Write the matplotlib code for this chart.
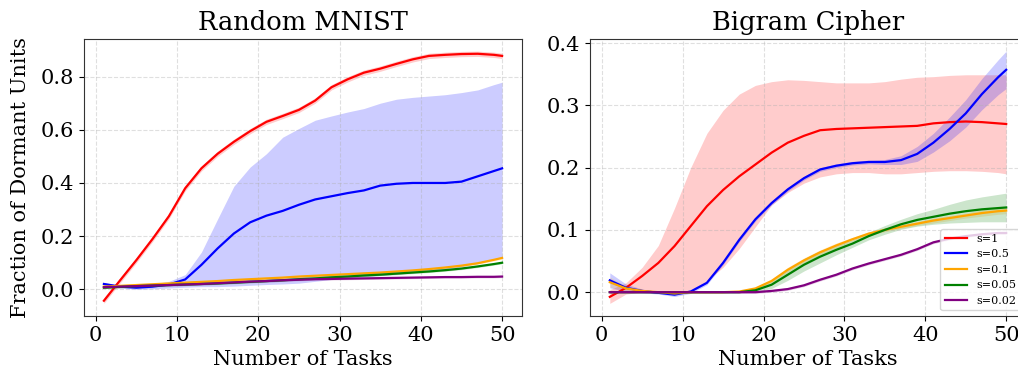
import numpy as np
import matplotlib
matplotlib.use('Agg')
from matplotlib import pyplot as plt

plt.rcParams['font.family'] = ['DejaVu Serif']

tasks = [1, 3, 5, 7, 9, 11, 13, 15, 17, 19, 21, 23, 25, 27, 29, 31, 33, 35, 37, 39, 41, 43, 45, 47, 49, 50]
labels = ['s=1', 's=0.5', 's=0.1', 's=0.05', 's=0.02']
colors = ['red', 'blue', 'orange', 'green', 'purple']

# Random MNIST: means, lower / upper edges of shaded band
mnist_s1 = [-0.043, 0.034, 0.11, 0.19, 0.275, 0.38, 0.455, 0.51, 0.555, 0.595, 0.63, 0.652, 0.675,
            0.71, 0.76, 0.79, 0.815, 0.83, 0.848, 0.865, 0.878, 0.882, 0.885, 0.886, 0.882, 0.878]
mnist_s1_std = [0.01] * 26
mnist_s05 = [0.02, 0.01, 0.006, 0.01, 0.018, 0.037, 0.092, 0.154, 0.21, 0.252, 0.277, 0.295, 0.318,
             0.338, 0.35, 0.362, 0.372, 0.39, 0.397, 0.4, 0.4, 0.4, 0.405, 0.425, 0.445, 0.455]
mnist_s05_hi = [0.025, 0.015, 0.012, 0.02, 0.03, 0.055, 0.14, 0.265, 0.388, 0.46, 0.51, 0.572, 0.605,
                0.636, 0.652, 0.667, 0.68, 0.7, 0.715, 0.722, 0.727, 0.732, 0.74, 0.75, 0.77, 0.779]
mnist_s05_lo = [0.015, 0.005, 0.0, 0.002, 0.005, 0.008, 0.01, 0.01, 0.012, 0.015, 0.018, 0.02, 0.023,
                0.03, 0.037, 0.042, 0.047, 0.052, 0.057, 0.062, 0.068, 0.075, 0.085, 0.097, 0.112, 0.12]
mnist_s01 = [0.01, 0.013, 0.016, 0.019, 0.022, 0.025, 0.028, 0.031, 0.035, 0.038, 0.041, 0.044, 0.048,
             0.051, 0.054, 0.057, 0.06, 0.063, 0.067, 0.071, 0.076, 0.082, 0.089, 0.098, 0.111, 0.118]
mnist_s005 = [0.006, 0.009, 0.012, 0.014, 0.016, 0.018, 0.02, 0.022, 0.025, 0.028, 0.031, 0.034, 0.038,
              0.041, 0.045, 0.048, 0.052, 0.055, 0.059, 0.063, 0.067, 0.072, 0.078, 0.086, 0.095, 0.1]
mnist_s002 = [0.008, 0.01, 0.012, 0.014, 0.016, 0.018, 0.02, 0.023, 0.026, 0.029, 0.031, 0.034, 0.036,
              0.038, 0.039, 0.04, 0.041, 0.042, 0.043, 0.044, 0.045, 0.046, 0.046, 0.047, 0.047, 0.048]
mnist_small_std = [0.004] * 26

# Bigram Cipher
bigram_s1 = [-0.0075, 0.007, 0.026, 0.047, 0.074, 0.106, 0.138, 0.164, 0.186, 0.205, 0.224, 0.24, 0.251,
             0.26, 0.262, 0.263, 0.264, 0.265, 0.266, 0.267, 0.271, 0.273, 0.274, 0.273, 0.271, 0.27]
bigram_s1_hi = [0.004, 0.015, 0.04, 0.075, 0.135, 0.2, 0.255, 0.292, 0.318, 0.332, 0.338, 0.341, 0.34,
                0.338, 0.336, 0.336, 0.336, 0.338, 0.342, 0.345, 0.346, 0.348, 0.349, 0.349, 0.349, 0.349]
bigram_s1_lo = [-0.018, -0.003, 0.0, 0.0, 0.0, 0.003, 0.018, 0.04, 0.07, 0.105, 0.14, 0.16, 0.175,
                0.185, 0.19, 0.192, 0.192, 0.19, 0.19, 0.192, 0.194, 0.195, 0.195, 0.194, 0.192, 0.19]
bigram_s05 = [0.019, 0.007, 0.002, -0.001, -0.004, 0.001, 0.015, 0.047, 0.084, 0.117, 0.143, 0.165, 0.183,
              0.197, 0.203, 0.207, 0.209, 0.209, 0.212, 0.222, 0.24, 0.262, 0.287, 0.318, 0.345, 0.357]
bigram_s05_std = [0.012, 0.006, 0.003, 0.002, 0.003, 0.003, 0.003, 0.003, 0.003, 0.003, 0.003, 0.003, 0.003,
                  0.003, 0.003, 0.003, 0.003, 0.004, 0.007, 0.012, 0.015, 0.019, 0.022, 0.025, 0.028, 0.03]
bigram_s01 = [0.016, 0.006, 0.002, 0.0, -0.002, 0.0, 0.0, 0.0, 0.001, 0.006, 0.018, 0.036, 0.051,
              0.064, 0.075, 0.085, 0.094, 0.1, 0.105, 0.11, 0.115, 0.119, 0.123, 0.127, 0.13, 0.131]
bigram_s01_std = [0.008, 0.004, 0.002, 0.002, 0.002, 0.001, 0.001, 0.001, 0.001, 0.002, 0.003, 0.004, 0.004,
                  0.004, 0.004, 0.003, 0.003, 0.003, 0.003, 0.003, 0.004, 0.004, 0.004, 0.005, 0.005, 0.005]
bigram_s005 = [0.0, 0.0, 0.0, 0.0, 0.0, 0.0, 0.0, 0.0, 0.0, 0.003, 0.012, 0.028, 0.044,
               0.057, 0.068, 0.078, 0.09, 0.1, 0.109, 0.116, 0.121, 0.126, 0.13, 0.133, 0.135, 0.136]
bigram_s005_std = [0.001, 0.001, 0.001, 0.001, 0.001, 0.001, 0.001, 0.001, 0.001, 0.003, 0.006, 0.009, 0.01,
                   0.01, 0.008, 0.006, 0.006, 0.007, 0.008, 0.01, 0.012, 0.015, 0.018, 0.02, 0.022, 0.023]
bigram_s002 = [0.0, 0.0, 0.0, 0.0, 0.0, 0.0, 0.0, 0.0, 0.0, 0.0, 0.002, 0.005, 0.011,
               0.02, 0.028, 0.038, 0.046, 0.053, 0.06, 0.069, 0.08, 0.086, 0.09, 0.093, 0.095, 0.095]
bigram_s002_std = [0.002] * 26

x = np.array(tasks)


def band(mean, std):
    m = np.array(mean)
    s = np.array(std)
    return m - s, m + s


mnist = [
    (mnist_s1, *band(mnist_s1, mnist_s1_std)),
    (mnist_s05, mnist_s05_lo, mnist_s05_hi),
    (mnist_s01, *band(mnist_s01, mnist_small_std)),
    (mnist_s005, *band(mnist_s005, mnist_small_std)),
    (mnist_s002, *band(mnist_s002, mnist_small_std)),
]
bigram = [
    (bigram_s1, bigram_s1_lo, bigram_s1_hi),
    (bigram_s05, *band(bigram_s05, bigram_s05_std)),
    (bigram_s01, *band(bigram_s01, bigram_s01_std)),
    (bigram_s005, *band(bigram_s005, bigram_s005_std)),
    (bigram_s002, *band(bigram_s002, bigram_s002_std)),
]

fig = plt.figure(figsize=(10.18, 3.75), dpi=100)
ax1 = fig.add_axes([84 / 1018, 1 - 316 / 375, 438 / 1018, 277.5 / 375])
ax2 = fig.add_axes([590 / 1018, 1 - 316 / 375, 436 / 1018, 277.5 / 375])

for ax, data, title in [(ax1, mnist, 'Random MNIST'), (ax2, bigram, 'Bigram Cipher')]:
    for (mean, lo, hi), c, lab in zip(data, colors, labels):
        ax.plot(x, mean, color=c, lw=1.6, label=lab)
        ax.fill_between(x, lo, hi, color=c, alpha=0.2, lw=0)
    ax.set_title(title, fontsize=18.5)
    ax.set_xlabel('Number of Tasks', fontsize=15)
    ax.grid(True, linestyle='--', alpha=0.4)
    ax.tick_params(labelsize=15)
    ax.set_xticks([0, 10, 20, 30, 40, 50])
    for sp in ax.spines.values():
        sp.set_color('0.2')

ax1.set_ylabel('Fraction of Dormant Units', fontsize=15, labelpad=8)
ax2.set_yticks([0.0, 0.1, 0.2, 0.3, 0.4])
ax2.legend(loc='lower right', fontsize=8)

fig.savefig('out.png', dpi=100)
